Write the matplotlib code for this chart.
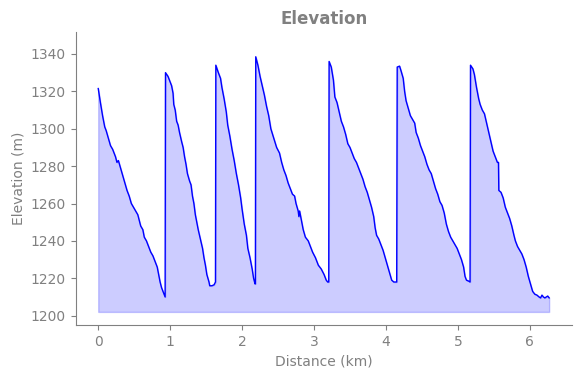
import matplotlib
matplotlib.use('Agg')
from matplotlib import pyplot as plt

# 数据 (距离 km, 海拔 m)
dist_km = [
    0.00, 0.03, 0.06, 0.09, 0.11, 0.14, 0.17, 0.20, 0.24, 0.26, 0.28, 0.31, 0.34, 0.37,
    0.40, 0.43, 0.46, 0.49, 0.52, 0.55, 0.57, 0.59, 0.62, 0.64, 0.67, 0.70, 0.73, 0.76,
    0.79, 0.82, 0.84, 0.86, 0.88, 0.91, 0.93,
    0.935, 0.97, 0.99, 1.02, 1.04, 1.05, 1.07, 1.09, 1.11, 1.13, 1.16, 1.18, 1.20, 1.22,
    1.24, 1.27, 1.29, 1.31, 1.33, 1.35, 1.37, 1.39, 1.42, 1.45, 1.47, 1.49, 1.51, 1.54,
    1.55, 1.58, 1.61, 1.63,
    1.635, 1.67, 1.70, 1.72, 1.75, 1.78, 1.80, 1.83, 1.86, 1.89, 1.92, 1.95, 1.98, 2.00,
    2.03, 2.06, 2.08, 2.11, 2.14, 2.16, 2.18, 2.185,
    2.19, 2.22, 2.25, 2.28, 2.31, 2.34, 2.37, 2.40, 2.44, 2.48, 2.52, 2.55, 2.58, 2.61,
    2.64, 2.67, 2.70, 2.73, 2.75, 2.78, 2.79, 2.80, 2.82, 2.85, 2.88, 2.92, 2.95, 2.98,
    3.02, 3.06, 3.10, 3.14, 3.17, 3.19, 3.205,
    3.21, 3.24, 3.27, 3.29, 3.32, 3.35, 3.38, 3.41, 3.44, 3.47, 3.50, 3.53, 3.56, 3.59,
    3.62, 3.65, 3.68, 3.71, 3.74, 3.77, 3.80, 3.83, 3.85, 3.87, 3.90, 3.93, 3.96, 3.99,
    4.02, 4.05, 4.08, 4.11, 4.13, 4.15,
    4.157, 4.19, 4.21, 4.24, 4.26, 4.28, 4.31, 4.34, 4.37, 4.40, 4.42, 4.45, 4.48, 4.51,
    4.54, 4.57, 4.60, 4.63, 4.66, 4.69, 4.72, 4.75, 4.78, 4.81, 4.84, 4.87, 4.90, 4.93,
    4.96, 4.99, 5.02, 5.05, 5.08, 5.10, 5.12, 5.15, 5.17,
    5.176, 5.21, 5.23, 5.26, 5.29, 5.31, 5.34, 5.37, 5.40, 5.43, 5.46, 5.49, 5.52, 5.55,
    5.565, 5.57, 5.60, 5.63, 5.66, 5.69, 5.72, 5.75, 5.78, 5.80, 5.83, 5.86, 5.89, 5.92,
    5.95, 5.98, 6.01, 6.04, 6.07, 6.10, 6.13, 6.15, 6.17, 6.19, 6.21, 6.23, 6.25, 6.27,
]
elev_m = [
    1321.5, 1314, 1307, 1301, 1299, 1295, 1291, 1289, 1285, 1282, 1283, 1279, 1275, 1271,
    1267, 1264, 1260, 1258, 1256, 1254, 1251, 1248, 1246, 1242, 1240, 1237, 1234, 1232,
    1229, 1226, 1222, 1218, 1215, 1212, 1210,
    1330, 1328, 1326, 1323, 1319, 1313, 1310, 1304, 1302, 1298, 1293, 1290, 1285, 1281,
    1276, 1272, 1270, 1264, 1260, 1254, 1250, 1246, 1241, 1236, 1231, 1227, 1222, 1218,
    1216, 1216, 1216.5, 1218,
    1334, 1330, 1327, 1322, 1316, 1309, 1302, 1296, 1289, 1283, 1276, 1270, 1263, 1257,
    1249, 1243, 1236, 1231, 1225, 1220, 1217, 1217,
    1338.5, 1334, 1328, 1323, 1318, 1312, 1307, 1300, 1295, 1290, 1287, 1282, 1278, 1275,
    1271, 1268, 1265, 1264, 1260, 1256, 1253, 1256, 1252, 1246, 1242, 1240, 1237, 1234,
    1231, 1227, 1225, 1222, 1219, 1218, 1218,
    1336, 1333, 1326, 1317, 1314, 1309, 1304, 1301, 1297, 1292, 1290, 1287, 1284, 1282,
    1279, 1276, 1273, 1269, 1266, 1262, 1258, 1253, 1247, 1243, 1241, 1238, 1235, 1231,
    1227, 1223, 1219, 1218, 1218, 1218,
    1333, 1333.5, 1331, 1327, 1320, 1315, 1311, 1307, 1305, 1303, 1298, 1295, 1291, 1288,
    1285, 1281, 1278, 1276, 1272, 1268, 1265, 1261, 1259, 1255, 1249, 1245, 1242, 1240,
    1238, 1236, 1233, 1230, 1226, 1221, 1219, 1218.5, 1218,
    1334, 1332, 1329, 1322, 1316, 1313, 1310, 1308, 1303, 1298, 1293, 1288, 1285, 1282,
    1282, 1267, 1266, 1263, 1258, 1255, 1252, 1248, 1243, 1240, 1237, 1235, 1233, 1230,
    1226, 1221, 1217, 1213, 1211.5, 1211, 1210, 1209.5, 1211, 1210, 1209.5, 1210, 1210.5, 1209.5,
]
fill_base = 1202

fig = plt.figure(figsize=(5.8, 3.78), dpi=100)
ax = fig.add_axes([0.1305, 0.1402, 0.8552, 0.7744])

ax.fill_between(dist_km, elev_m, fill_base, color='blue', alpha=0.2)
ax.plot(dist_km, elev_m, color='blue', linewidth=1)

ax.set_ylim(1195, 1351.6)
ax.set_yticks([1200, 1220, 1240, 1260, 1280, 1300, 1320, 1340])
ax.set_xticks([0, 1, 2, 3, 4, 5, 6])

ax.set_title('Elevation', color='gray', fontweight='bold', fontsize=12)
ax.set_xlabel('Distance (km)', color='gray', fontsize=10)
ax.set_ylabel('Elevation (m)', color='gray', fontsize=10)

for side in ['top', 'right']:
    ax.spines[side].set_visible(False)
for side in ['left', 'bottom']:
    ax.spines[side].set_color('gray')
ax.tick_params(colors='gray', labelsize=10)

plt.savefig('out.png', dpi=100)
